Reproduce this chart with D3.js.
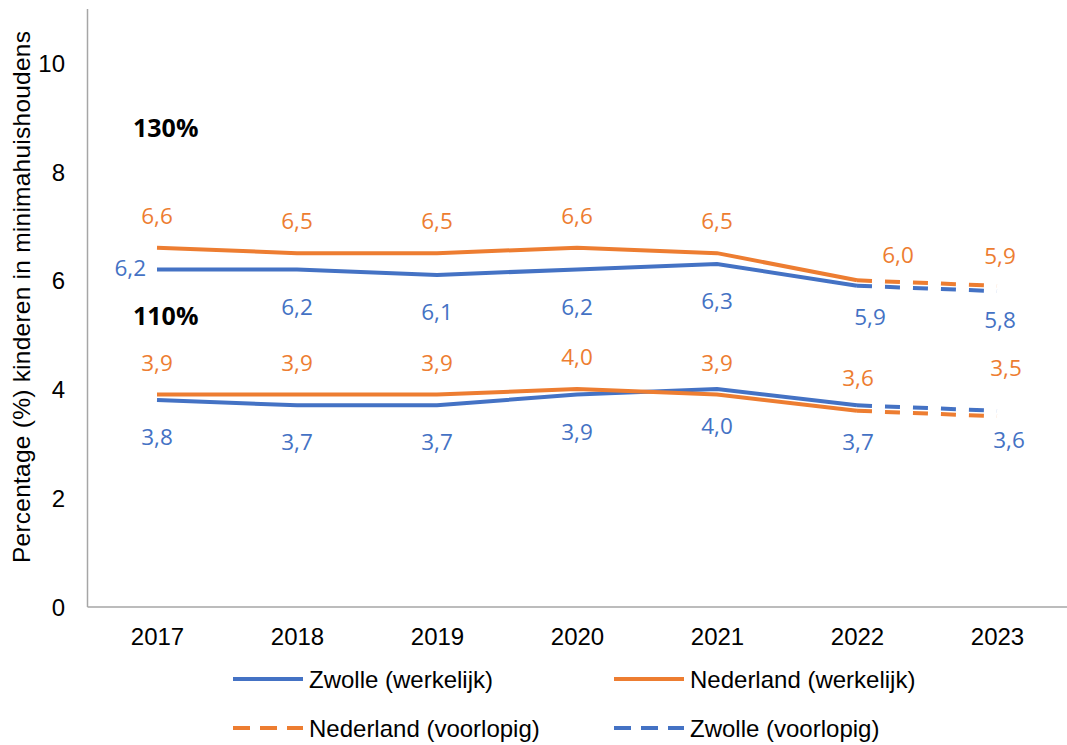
<!DOCTYPE html>
<html>
<head>
<meta charset="utf-8">
<script src="https://cdnjs.cloudflare.com/ajax/libs/d3/7.8.5/d3.min.js"></script>
<style>
  body { margin: 0; background: #fff; }
  .tick text { fill: #000; }
  .domain { stroke: #a6a6a6; stroke-width: 1.5px; }
</style>
</head>
<body>
<svg id="graph" width="1067" height="745"></svg>
<script>
// categories
var years = ["2017", "2018", "2019", "2020", "2021", "2022", "2023"];
var yearsActual = ["2017", "2018", "2019", "2020", "2021", "2022"];
var yearsProv = ["2022", "2023"];

// 130% groep
var zwolle130 = [6.2, 6.2, 6.1, 6.2, 6.3, 5.9];
var nl130 = [6.6, 6.5, 6.5, 6.6, 6.5, 6.0];
var zwolle130Prov = [5.9, 5.8];
var nl130Prov = [6.0, 5.9];

// 110% groep
var zwolle110 = [3.8, 3.7, 3.7, 3.9, 4.0, 3.7];
var nl110 = [3.9, 3.9, 3.9, 4.0, 3.9, 3.6];
var zwolle110Prov = [3.7, 3.6];
var nl110Prov = [3.6, 3.5];

var yTicks = [0, 2, 4, 6, 8, 10];
var groupLabels = ["130%", "110%"];
var legendLabels = ["Zwolle (werkelijk)", "Nederland (werkelijk)", "Nederland (voorlopig)", "Zwolle (voorlopig)"];

var blue = "#4472c4", orange = "#ed7d31";

var svg = d3.select("#graph");
var x = d3.scalePoint().domain(years).range([87, 1067]).padding(0.5);
var y = d3.scaleLinear().domain([0, 11]).range([606.5, 8.5]);

// axes
var xAxis = d3.axisBottom(x).tickSize(0).tickSizeOuter(0).tickPadding(21);
var yAxis = d3.axisLeft(y).tickValues(yTicks).tickSize(0).tickSizeOuter(0).tickPadding(22);

svg.append("g").attr("transform", "translate(0,606.5)").call(xAxis)
  .attr("font-family", "'Liberation Sans', Arial, sans-serif").attr("font-size", 24);
svg.append("g").attr("transform", "translate(87,0)").call(yAxis)
  .attr("font-family", "'Liberation Sans', Arial, sans-serif").attr("font-size", 24)
  .selectAll(".tick text").attr("dy", "0.36em");

svg.append("text")
  .attr("transform", "translate(30,297) rotate(-90)")
  .attr("text-anchor", "middle")
  .attr("font-family", "'Liberation Sans', Arial, sans-serif")
  .attr("font-size", 24.5)
  .attr("textLength", 532)
  .text("Percentage (%) kinderen in minimahuishoudens");

// lines
var line = d3.line().x(d => x(d[0])).y(d => y(d[1]));
function pairs(cats, vals) { return cats.map((c, i) => [c, vals[i]]); }

var series = [
  { cats: yearsActual, vals: zwolle130, color: blue, dash: null, key: "z130" },
  { cats: yearsActual, vals: nl130, color: orange, dash: null, key: "n130" },
  { cats: yearsProv, vals: nl130Prov, color: orange, dash: "15,13", key: "n130p" },
  { cats: yearsProv, vals: zwolle130Prov, color: blue, dash: "15,13", key: "z130p" },
  { cats: yearsActual, vals: zwolle110, color: blue, dash: null, key: "z110" },
  { cats: yearsActual, vals: nl110, color: orange, dash: null, key: "n110" },
  { cats: yearsProv, vals: nl110Prov, color: orange, dash: "15,13", key: "n110p" },
  { cats: yearsProv, vals: zwolle110Prov, color: blue, dash: "15,13", key: "z110p" }
];

svg.selectAll("path.series").data(series).enter()
  .append("path")
    .attr("class", "series")
    .attr("d", s => line(pairs(s.cats, s.vals)))
    .attr("fill", "none")
    .attr("stroke", s => s.color)
    .attr("stroke-width", 4)
    .attr("stroke-dasharray", s => s.dash);

// data labels: orange above, blue below, a few nudged like in the original
var nudge = {
  "z130-2017": [-11, -2, "end"],
  "n130p-2022": [41, -25], "z130p-2022": [13, 31],
  "n130p-2023": [3, -30], "z130p-2023": [3, 29],
  "n110p-2022": [1, -33], "z110p-2022": [1, 37],
  "n110p-2023": [9, -48], "z110p-2023": [12, 29]
};
var labels = [];
series.forEach(s => {
  s.cats.forEach((c, i) => {
    var prov = s.dash !== null;
    if (!prov && c === "2022") return;
    var k = s.key + "-" + c;
    var def = [0, s.color === orange ? -32 : 37, "middle"];
    var n = nudge[k] || def;
    labels.push({ cat: c, val: s.vals[i], color: s.color, dx: n[0], dy: n[1], anchor: n[2] || "middle" });
  });
});

svg.selectAll("text.lbl").data(labels).enter()
  .append("text")
    .attr("class", "lbl")
    .attr("x", d => x(d.cat) + d.dx)
    .attr("y", d => y(d.val) + d.dy)
    .attr("dy", "0.36em")
    .attr("text-anchor", d => d.anchor)
    .attr("font-family", "'Open Sans', sans-serif")
    .attr("font-size", 22.5)
    .attr("fill", d => d.color)
    .text(d => d3.format(".1f")(d.val).replace(".", ","));

// group labels
svg.append("text").attr("x", 133).attr("y", 128).attr("dy", "0.36em")
  .attr("font-family", "'Open Sans', sans-serif").attr("font-weight", "bold").attr("font-size", 25)
  .text(groupLabels[0]);
svg.append("text").attr("x", 133).attr("y", 316).attr("dy", "0.36em")
  .attr("font-family", "'Open Sans', sans-serif").attr("font-weight", "bold").attr("font-size", 25)
  .text(groupLabels[1]);

// legend
var legendItems = [
  { label: legendLabels[0], color: blue, dash: null, lx: 233, ly: 679 },
  { label: legendLabels[1], color: orange, dash: null, lx: 614, ly: 679 },
  { label: legendLabels[2], color: orange, dash: "17,10", lx: 233, ly: 728 },
  { label: legendLabels[3], color: blue, dash: "17,10", lx: 614, ly: 728 }
];
var lg = svg.selectAll("g.legend").data(legendItems).enter()
  .append("g").attr("class", "legend")
  .attr("transform", d => "translate(" + d.lx + "," + d.ly + ")");
lg.append("line").attr("x1", 0).attr("x2", 70).attr("y1", 0).attr("y2", 0)
  .attr("stroke", d => d.color).attr("stroke-width", 4)
  .attr("stroke-dasharray", d => d.dash);
lg.append("text").attr("x", 76).attr("dy", "0.36em")
  .attr("font-family", "'Liberation Sans', Arial, sans-serif").attr("font-size", 24)
  .text(d => d.label);
</script>
</body>
</html>
